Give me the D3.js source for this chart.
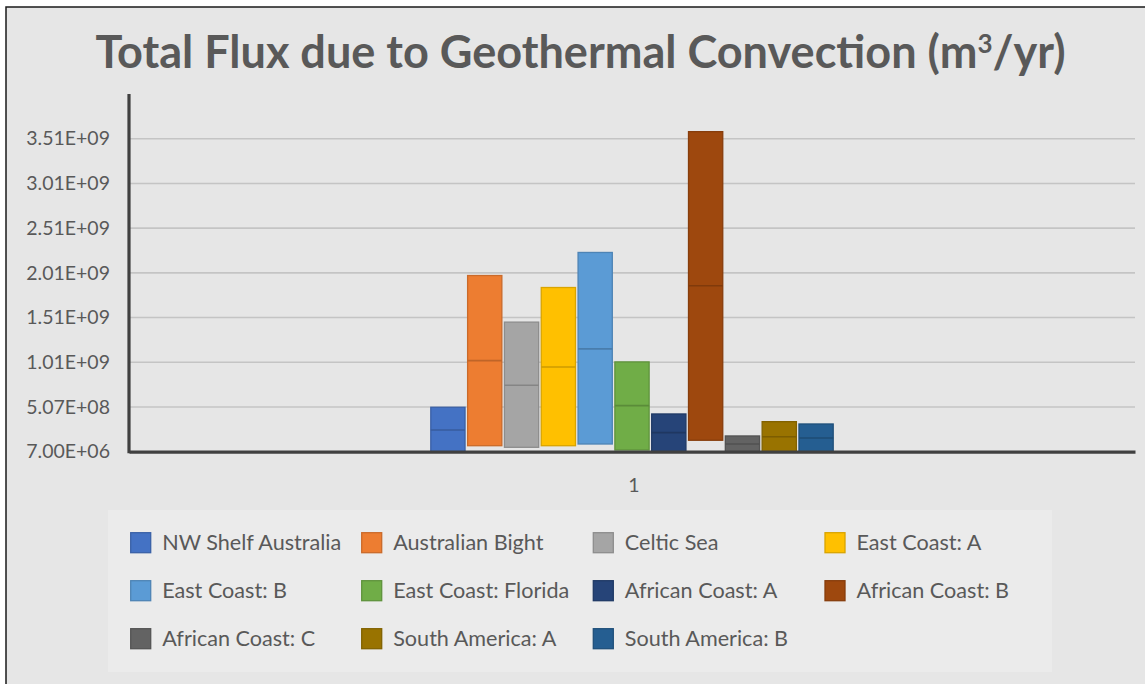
<!DOCTYPE html>
<html>
<head>
<meta charset="utf-8">
<script src="https://cdn.jsdelivr.net/npm/d3@7"></script>
<style>
  html, body { margin: 0; padding: 0; background: #ffffff; }
  svg { display: block; }
</style>
</head>
<body>
<svg id="chart" width="1145" height="684"></svg>
<script>
const categories = ["1"];
const seriesNames = [
  "NW Shelf Australia", "Australian Bight", "Celtic Sea", "East Coast: A",
  "East Coast: B", "East Coast: Florida", "African Coast: A", "African Coast: B",
  "African Coast: C", "South America: A", "South America: B"
];
const lowValues  = [7.0e6, 7.4e7, 5.6e7, 7.4e7, 9.3e7, 2.6e7, 7.0e6, 1.35e8, 7.0e6, 7.0e6, 7.0e6];
const midValues  = [2.5e8, 1.026e9, 7.5e8, 9.55e8, 1.157e9, 5.22e8, 2.2e8, 1.862e9, 9.3e7, 1.75e8, 1.6e8];
const highValues = [5.04e8, 1.977e9, 1.456e9, 1.843e9, 2.235e9, 1.011e9, 4.29e8, 3.586e9, 1.83e8, 3.43e8, 3.17e8];
const seriesColors = ["#4472C4", "#ED7D31", "#A5A5A5", "#FFC000", "#5B9BD5", "#70AD47",
                      "#264478", "#9E480E", "#636363", "#997300", "#255E91"];
const tickValues = [7.0e6, 5.07e8, 1.007e9, 1.507e9, 2.007e9, 2.507e9, 3.007e9, 3.507e9];
const tickLabels = ["7.00E+06", "5.07E+08", "1.01E+09", "1.51E+09", "2.01E+09", "2.51E+09", "3.01E+09", "3.51E+09"];
const yMin = 7.0e6, yMax = 4.007e9;

const svg = d3.select("#chart");
const FONT = "Lato, 'Open Sans', sans-serif";
const TXT = "#595959";

// chart frame
svg.append("rect").attr("x", 6).attr("y", 7).attr("width", 1160).attr("height", 700)
  .attr("fill", "#E6E6E6").attr("stroke", "#1a1a1a").attr("stroke-width", 1.5);

// title
const title = svg.append("text").attr("x", 580.5).attr("y", 68)
  .attr("text-anchor", "middle").attr("font-family", FONT).attr("font-weight", "bold")
  .attr("font-size", 44).attr("fill", TXT);
title.append("tspan").text("Total Flux due to Geothermal Convection (m");
title.append("tspan").attr("font-size", 26).attr("dy", -15).text("3");
title.append("tspan").attr("dy", 15).text("/yr)");
(function fit() {
  const w = title.node().getComputedTextLength();
  const target = 971;
  if (w > 0) title.attr("font-size", 44 * target / w);
})();

const plotL = 129, plotR = 1135, plotT = 94, plotB = 451.7;
const x = d3.scaleBand().domain(categories).range([plotL, plotR]).paddingInner(0).paddingOuter(0);
const y = d3.scaleLinear().domain([yMin, yMax]).range([plotB, plotT]);

// gridlines
svg.append("g").selectAll("line").data(tickValues.slice(1)).join("line")
  .attr("x1", plotL).attr("x2", plotR)
  .attr("y1", d => y(d)).attr("y2", d => y(d))
  .attr("stroke", "#C4C4C4").attr("stroke-width", 1.6);

// y axis labels
const yAxis = d3.axisLeft(y).tickValues(tickValues).tickSize(0).tickPadding(0)
  .tickFormat((d, i) => tickLabels[i]);
const yg = svg.append("g").attr("transform", `translate(110,0)`).call(yAxis);
yg.select(".domain").remove();
yg.selectAll("text").attr("font-family", FONT).attr("font-size", 19.5).attr("fill", TXT);

// bars
const cluster = x.bandwidth() * 0.4;
const cx = x("1") + x.bandwidth() / 2;
const xs = d3.scaleBand().domain(seriesNames).range([cx - cluster / 2, cx + cluster / 2]).paddingInner(0.07).paddingOuter(0);
const data = seriesNames.map((n, i) => ({ name: n, low: lowValues[i], mid: midValues[i], high: highValues[i], color: seriesColors[i] }));
const bars = svg.append("g").selectAll("g").data(data).join("g");
bars.append("rect")
  .attr("x", d => xs(d.name)).attr("width", xs.bandwidth())
  .attr("y", d => y(d.high)).attr("height", d => y(d.low) - y(d.high))
  .attr("fill", d => d.color)
  .attr("stroke", d => d3.color(d.color).darker(0.45)).attr("stroke-width", 1.3);
bars.append("line")
  .attr("x1", d => xs(d.name)).attr("x2", d => xs(d.name) + xs.bandwidth())
  .attr("y1", d => y(d.mid)).attr("y2", d => y(d.mid))
  .attr("stroke", d => d3.color(d.color).darker(0.6)).attr("stroke-width", 1.6);

// axes lines
const xAxis = d3.axisBottom(x).tickSize(0).tickPadding(26);
const xg = svg.append("g").attr("transform", `translate(0,${plotB})`).call(xAxis);
xg.select(".domain").attr("stroke", "#404040").attr("stroke-width", 3.2);
xg.selectAll("text").attr("font-family", FONT).attr("font-size", 19.5).attr("fill", TXT)
  .attr("dx", 2);
svg.append("line").attr("x1", plotL).attr("x2", plotL).attr("y1", plotT).attr("y2", plotB + 1.5)
  .attr("stroke", "#404040").attr("stroke-width", 3.2);

// legend
svg.append("rect").attr("x", 108).attr("y", 510).attr("width", 944).attr("height", 162)
  .attr("fill", "#EBEBEB");
const colX = [130.7, 361.7, 593.3, 825];
const rowY = [542.7, 590.7, 638.7];
const items = svg.append("g").selectAll("g").data(data).join("g")
  .attr("transform", (d, i) => `translate(${colX[i % 4]},${rowY[Math.floor(i / 4)]})`);
items.append("rect").attr("x", 0).attr("y", -10).attr("width", 20).attr("height", 20)
  .attr("fill", d => d.color).attr("stroke", d => d3.color(d.color).darker(0.45)).attr("stroke-width", 1.3);
items.append("text").attr("x", 31.5).attr("y", 0).attr("dy", "0.36em")
  .attr("font-family", FONT).attr("font-size", 21.6).attr("fill", TXT).text(d => d.name);
</script>
</body>
</html>
